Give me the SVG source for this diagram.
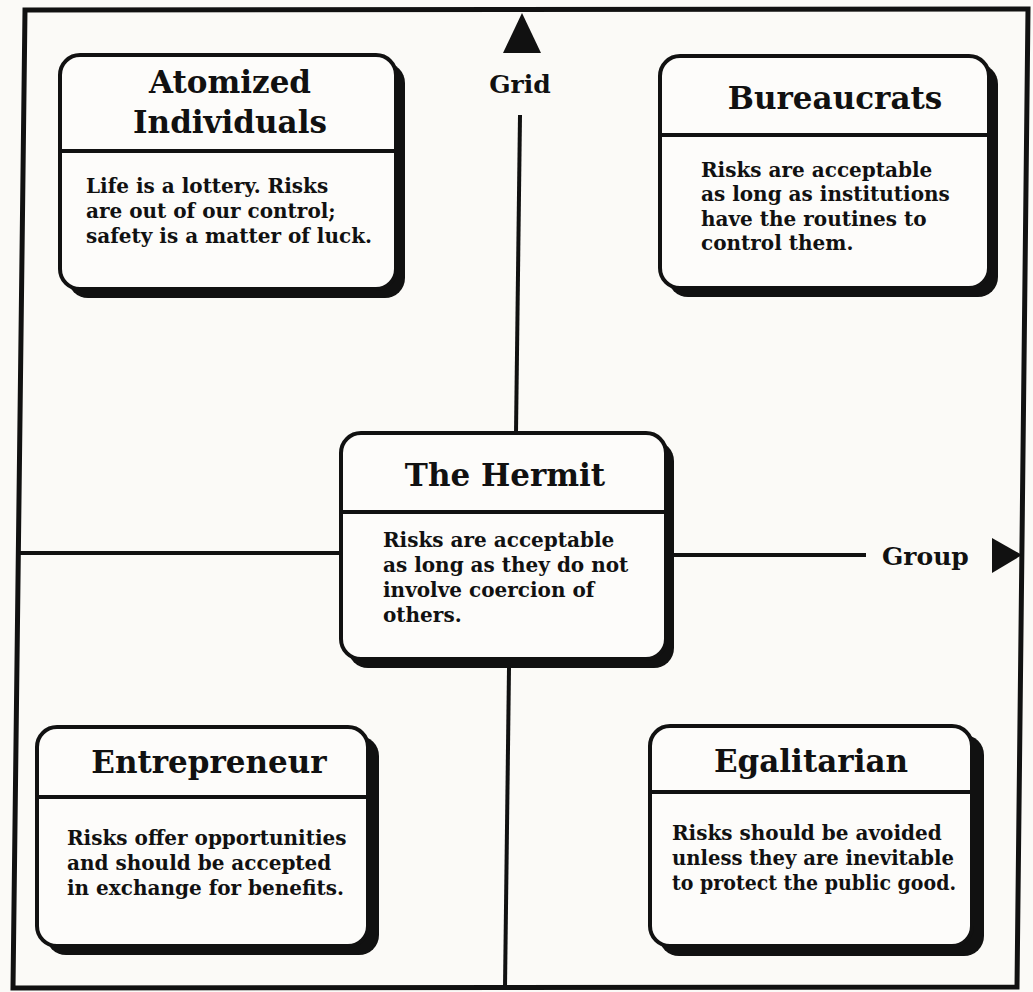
<svg xmlns="http://www.w3.org/2000/svg" width="1033" height="992" viewBox="0 0 1033 992">
<style>
.bg{fill:#fbfaf7}
.frame{fill:none;stroke:#111;stroke-width:5}
.box{fill:#fdfcfa;stroke:#111;stroke-width:4}
.shadow{fill:#111}
.div{stroke:#111;stroke-width:4}
.axis{stroke:#111;stroke-width:4;fill:none}
.title{font-family:"DejaVu Serif","Liberation Serif",serif;font-weight:bold;font-size:31px;fill:#111;text-anchor:middle}
.body{font-family:"DejaVu Serif","Liberation Serif",serif;font-weight:bold;font-size:20px;fill:#111}
.lab{font-family:"DejaVu Serif","Liberation Serif",serif;font-weight:bold;font-size:25px;fill:#111}
</style>
<rect class="bg" x="0" y="0" width="1033" height="992"/>
<polygon class="frame" points="25,10 1028,9 1017,987 13,988"/>
<g id="connectors">
<line class="axis" x1="520" y1="115" x2="516" y2="433"/>
<line class="axis" x1="509" y1="668" x2="505" y2="987"/>
<line class="axis" x1="18" y1="553" x2="341" y2="553"/>
<line class="axis" x1="670" y1="555" x2="866" y2="555"/>
<polygon points="522,13 503,53 541,53" fill="#111"/>
<polygon points="992,538 1022,555 992,573" fill="#111"/>
</g>
<g id="axis-labels">
<text class="lab" x="520" y="93" text-anchor="middle">Grid</text>
<text class="lab" x="882" y="565">Group</text>
</g>
<g id="atomized">
<rect class="shadow" x="68" y="63" width="337" height="235" rx="20"/>
<rect class="box" x="60" y="55" width="336" height="234" rx="20"/>
<line class="div" x1="60" y1="151" x2="396" y2="151"/>
<text class="title" x="230" y="93">Atomized</text>
<text class="title" x="230" y="133">Individuals</text>
<text class="body" x="86" y="193">Life is a lottery. Risks</text>
<text class="body" x="86" y="218">are out of our control;</text>
<text class="body" x="86" y="243">safety is a matter of luck.</text>
</g>
<g id="bureaucrats">
<rect class="shadow" x="668" y="64" width="330" height="233" rx="20"/>
<rect class="box" x="660" y="56" width="329" height="232" rx="20"/>
<line class="div" x1="660" y1="135" x2="989" y2="135"/>
<text class="title" x="835" y="109">Bureaucrats</text>
<text class="body" x="701" y="177">Risks are acceptable</text>
<text class="body" x="701" y="201">as long as institutions</text>
<text class="body" x="701" y="226">have the routines to</text>
<text class="body" x="701" y="250">control them.</text>
</g>
<g id="hermit">
<rect class="shadow" x="348" y="441" width="326" height="227" rx="20"/>
<rect class="box" x="341" y="433" width="325" height="226" rx="20"/>
<line class="div" x1="341" y1="512" x2="666" y2="512"/>
<text class="title" x="505" y="486">The Hermit</text>
<text class="body" x="383" y="547">Risks are acceptable</text>
<text class="body" x="383" y="572">as long as they do not</text>
<text class="body" x="383" y="597">involve coercion of</text>
<text class="body" x="383" y="622">others.</text>
</g>
<g id="entrepreneur">
<rect class="shadow" x="46" y="736" width="333" height="219" rx="20"/>
<rect class="box" x="37" y="727" width="331" height="219" rx="20"/>
<line class="div" x1="37" y1="797" x2="368" y2="797"/>
<text class="title" x="209" y="773">Entrepreneur</text>
<text class="body" x="67" y="845">Risks offer opportunities</text>
<text class="body" x="67" y="870">and should be accepted</text>
<text class="body" x="67" y="895">in exchange for benefits.</text>
</g>
<g id="egalitarian">
<rect class="shadow" x="659" y="735" width="325" height="221" rx="20"/>
<rect class="box" x="650" y="726" width="322" height="220" rx="20"/>
<line class="div" x1="650" y1="792" x2="972" y2="792"/>
<text class="title" x="811" y="772">Egalitarian</text>
<text class="body" x="672" y="840">Risks should be avoided</text>
<text class="body" x="672" y="865" textLength="282" lengthAdjust="spacingAndGlyphs">unless they are inevitable</text>
<text class="body" x="672" y="890" textLength="284" lengthAdjust="spacingAndGlyphs">to protect the public good.</text>
</g>
</svg>
